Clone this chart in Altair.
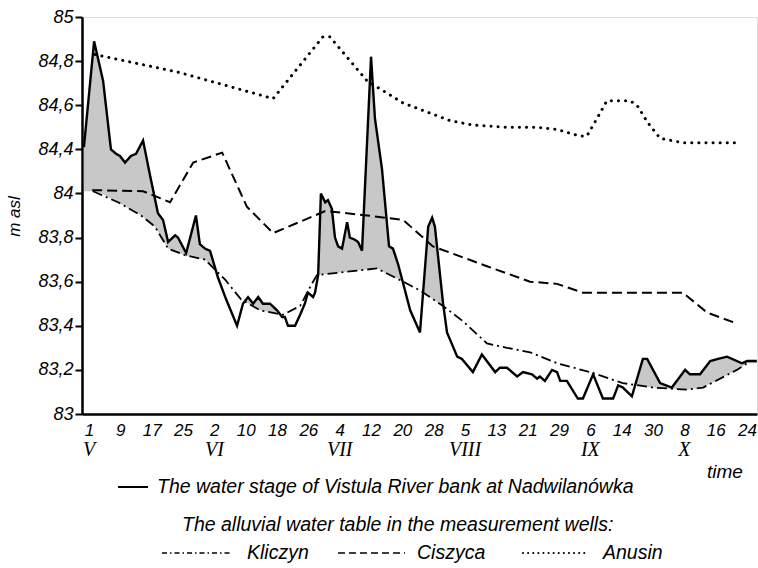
import altair as alt
import pandas as pd
import numpy as np

# ---------------- data (day index: 0 = 1 May, 8 days per labelled tick) ----------------
tick_days = [0, 8, 16, 24, 32, 40, 48, 56, 64, 72, 80, 88, 96, 104, 112, 120, 128, 136, 144, 152, 160, 168]
tick_labels = ["1", "9", "17", "25", "2", "10", "18", "26", "4", "12", "20", "28",
               "5", "13", "21", "29", "6", "14", "30", "8", "16", "24"]
month_days = [0, 32, 64, 96, 128, 152]
month_labels = ["V", "VI", "VII", "VIII", "IX", "X"]
y_ticks = [83, 83.2, 83.4, 83.6, 83.8, 84, 84.4, 84.6, 84.8, 85]

river_day = [-1.3, 1.3, 3.6, 5.6, 6.9, 7.9, 9.2, 10.7, 12.0, 13.8,
             15.6, 17.6, 18.9, 20.2, 22.0, 22.7, 24.8, 27.3, 28.3, 29.6,
             30.9, 32.9, 35.0, 37.8, 39.3, 40.6, 41.9, 43.2, 44.4, 46.2,
             48.0, 49.3, 50.0, 50.8, 52.6, 53.9, 55.1, 55.9, 57.2, 57.7,
             58.5, 59.2, 60.3, 61.0, 62.0, 62.8, 63.6, 64.6, 65.9, 66.6,
             67.9, 68.7, 69.7, 72.0, 73.0, 74.8, 76.6, 77.6, 78.9, 82.0,
             84.5, 86.6, 87.6, 88.3, 90.4, 91.4, 94.0, 95.2, 98.0, 100.3,
             103.7, 104.9, 106.7, 109.3, 110.8, 113.1, 114.4, 115.1, 116.4, 118.2,
             119.5, 120.3, 122.0, 124.8, 126.1, 128.7, 131.2, 133.8, 135.1, 136.3,
             138.6, 141.4, 142.5, 145.8, 148.8, 152.2, 153.4, 156.0, 158.6, 160.6,
             162.9, 166.7, 168.0, 170.5]
river_m = [84.41, 84.89, 84.71, 84.40, 84.36, 84.34, 84.28, 84.34, 84.36, 84.44,
           84.16, 83.91, 83.88, 83.78, 83.81, 83.80, 83.73, 83.90, 83.77, 83.75,
           83.74, 83.62, 83.52, 83.40, 83.50, 83.53, 83.50, 83.53, 83.50, 83.50,
           83.47, 83.44, 83.44, 83.40, 83.40, 83.45, 83.50, 83.55, 83.53, 83.55,
           83.63, 84.00, 83.96, 83.97, 83.93, 83.80, 83.76, 83.75, 83.87, 83.80,
           83.79, 83.78, 83.74, 84.82, 84.54, 84.22, 83.76, 83.75, 83.68, 83.47,
           83.37, 83.85, 83.89, 83.85, 83.50, 83.37, 83.26, 83.25, 83.19, 83.27,
           83.19, 83.21, 83.21, 83.17, 83.19, 83.18, 83.16, 83.17, 83.15, 83.20,
           83.19, 83.15, 83.15, 83.07, 83.07, 83.18, 83.07, 83.07, 83.13, 83.12,
           83.08, 83.25, 83.25, 83.14, 83.12, 83.20, 83.18, 83.18, 83.24, 83.25,
           83.26, 83.23, 83.24, 83.24]

kliczyn_day = [1.0, 7.4, 13.3, 16.8, 20.2, 24.5, 29.6, 34.7, 38.8, 43.7,
               49.5, 53.9, 57.2, 58.2, 73.5, 80.2, 84.5, 90.4, 95.5, 101.6,
               106.7, 112.6, 119.5, 127.9, 136.3, 144.0, 152.7, 156.8, 165.4, 168.0]
kliczyn_m = [84.02, 83.96, 83.90, 83.85, 83.75, 83.72, 83.70, 83.61, 83.52, 83.47,
             83.45, 83.49, 83.60, 83.63, 83.66, 83.60, 83.56, 83.49, 83.42, 83.32,
             83.30, 83.28, 83.23, 83.19, 83.14, 83.12, 83.11, 83.12, 83.20, 83.23]

ciszyca_day = [0.8, 13.8, 20.7, 26.6, 34.0, 40.3, 47.0, 60.3, 65.9, 71.0,
               80.2, 87.8, 101.6, 112.6, 119.5, 126.1, 151.6, 157.8, 165.4]
ciszyca_m = [84.03, 84.02, 83.96, 84.28, 84.37, 83.94, 83.82, 83.92, 83.91, 83.90,
             83.88, 83.76, 83.67, 83.60, 83.59, 83.55, 83.55, 83.46, 83.41]

anusin_day = [1.5, 22.7, 47.0, 59.7, 61.5, 71.0, 80.2, 92.2, 98.0, 106.7,
              114.4, 119.5, 125.3, 127.1, 129.7, 132.2, 138.1, 139.9, 142.7, 145.8,
              151.6, 164.9]
anusin_m = [84.83, 84.75, 84.63, 84.91, 84.91, 84.71, 84.61, 84.53, 84.51, 84.50,
            84.50, 84.49, 84.46, 84.46, 84.54, 84.62, 84.62, 84.60, 84.52, 84.45,
            84.43, 84.43]

# ---------------- derived tables ----------------
rd, rv = np.array(river_day), np.array(river_m)
kd, kv = np.array(kliczyn_day), np.array(kliczyn_m)
grid = np.union1d(rd, kd[(kd >= rd.min()) & (kd <= rd.max())])
r_g, k_g = np.interp(grid, rd, rv), np.interp(grid, kd, kv)
cross = []
for i in range(len(grid) - 1):
    d0, d1 = r_g[i] - k_g[i], r_g[i + 1] - k_g[i + 1]
    if d0 * d1 < 0:
        cross.append(grid[i] + d0 / (d0 - d1) * (grid[i + 1] - grid[i]))
grid = np.sort(np.concatenate([grid, cross]))
r_g, k_g = np.interp(grid, rd, rv), np.interp(grid, kd, kv)
fill_df = pd.DataFrame({"day": grid, "top": np.maximum(r_g, k_g), "bottom": k_g})

river_df = pd.DataFrame({"day": river_day, "m": river_m})
kliczyn_df = pd.DataFrame({"day": kliczyn_day, "m": kliczyn_m})
ciszyca_df = pd.DataFrame({"day": ciszyca_day, "m": ciszyca_m})
anusin_df = pd.DataFrame({"day": anusin_day, "m": anusin_m})
month_df = pd.DataFrame({"day": month_days, "lab": month_labels})

# ---------------- scales / axes ----------------
W, H = 675, 397
SANS = "Liberation Sans"
x_scale = alt.Scale(domain=[-1.79, 170.54], nice=False, zero=False)
y_scale = alt.Scale(domain=[83, 84, 84.4, 85], range=[H, H * 4 / 9, H * 3 / 9, 0],
                    nice=False, zero=False)

label_js = "[" + ",".join("'%s'" % t for t in tick_labels) + "]"
x_axis = alt.Axis(values=tick_days, labelExpr=label_js + "[round(datum.value/8)]",
                  ticks=False, tickSize=0, grid=False, labelFont=SANS, labelFontStyle="italic",
                  labelFontSize=17, labelColor="black", labelPadding=8, labelFlush=False,
                  labelOverlap=False, domainColor="black", domainWidth=2.5)
y_axis = alt.Axis(values=y_ticks, labelExpr="replace(toString(datum.value), '.', ',')",
                  title="m asl", titleFont=SANS, titleFontStyle="italic", titleFontWeight="normal",
                  titleFontSize=17, titleColor="black", titleX=-68, titleY=199,
                  titleAlign="center", titleBaseline="middle",
                  grid=False, labelFont=SANS, labelFontStyle="italic", labelFontSize=18,
                  labelColor="black", labelPadding=2, tickSize=7, tickWidth=2,
                  tickColor="black", domainColor="black", domainWidth=2.5, labelOverlap=False)


def X():
    return alt.X("day:Q", scale=x_scale, axis=x_axis, title=None)


def Y(field="m"):
    return alt.Y(field + ":Q", scale=y_scale, axis=y_axis)


fill = alt.Chart(fill_df).mark_area(color="#c8c8c8", opacity=1).encode(
    x=X(), y=Y("top"), y2="bottom:Q")

kliczyn = alt.Chart(kliczyn_df).mark_line(color="black", strokeWidth=1.8,
                                           strokeDash=[10, 4, 2, 4]).encode(x=X(), y=Y())
ciszyca = alt.Chart(ciszyca_df).mark_line(color="black", strokeWidth=2,
                                           strokeDash=[10, 5]).encode(x=X(), y=Y())
anusin = alt.Chart(anusin_df).mark_line(color="black", strokeWidth=3, strokeCap="round",
                                         strokeDash=[0.1, 7]).encode(x=X(), y=Y())
river = alt.Chart(river_df).mark_line(color="black", strokeWidth=2.4,
                                       strokeJoin="miter").encode(x=X(), y=Y())

months = alt.Chart(month_df).mark_text(font="Liberation Serif", fontStyle="italic",
                                        fontSize=20, baseline="middle", color="black").encode(
    x=X(), y=alt.value(433), text="lab:N")


def txt(t, x, y, align="left", size=19.5):
    return alt.Chart(pd.DataFrame({"t": [t]})).mark_text(
        align=align, baseline="middle", font=SANS, fontStyle="italic", fontSize=size,
        color="black").encode(x=alt.value(x), y=alt.value(y), text="t:N")


def sample(x1, x2, y, dash=None, width=1.6, cap="butt"):
    kw = dict(color="black", strokeWidth=width, strokeCap=cap)
    if dash:
        kw["strokeDash"] = dash
    return alt.Chart(pd.DataFrame({"a": [0]})).mark_rule(**kw).encode(
        x=alt.value(x1), x2=alt.value(x2), y=alt.value(y))


legend = [
    sample(36, 66, 470, width=2),
    txt("The water stage of Vistula River bank at Nadwilanówka", 75, 470),
    txt("The alluvial water table in the measurement wells:", 100, 508),
    sample(80, 148, 536, dash=[5, 3, 1.5, 3], width=1.4),
    txt("Kliczyn", 165, 536),
    sample(256, 323, 536, dash=[7, 4], width=1.6),
    txt("Ciszyca", 335, 536),
    sample(441, 506, 536, dash=[0.1, 5], width=2, cap="round"),
    txt("Anusin", 521, 536),
    txt("time", 643, 455, align="center", size=19),
]

chart = alt.layer(fill, kliczyn, ciszyca, anusin, river, months, *legend).properties(
    width=W, height=H,
    autosize=alt.AutoSizeParams(type="none"),
    padding={"left": 82, "top": 17, "right": 1, "bottom": 154},
).configure_view(stroke="black", strokeWidth=2).configure(background="white")

chart.save("out.html", embed_options={"renderer": "svg", "actions": False})
